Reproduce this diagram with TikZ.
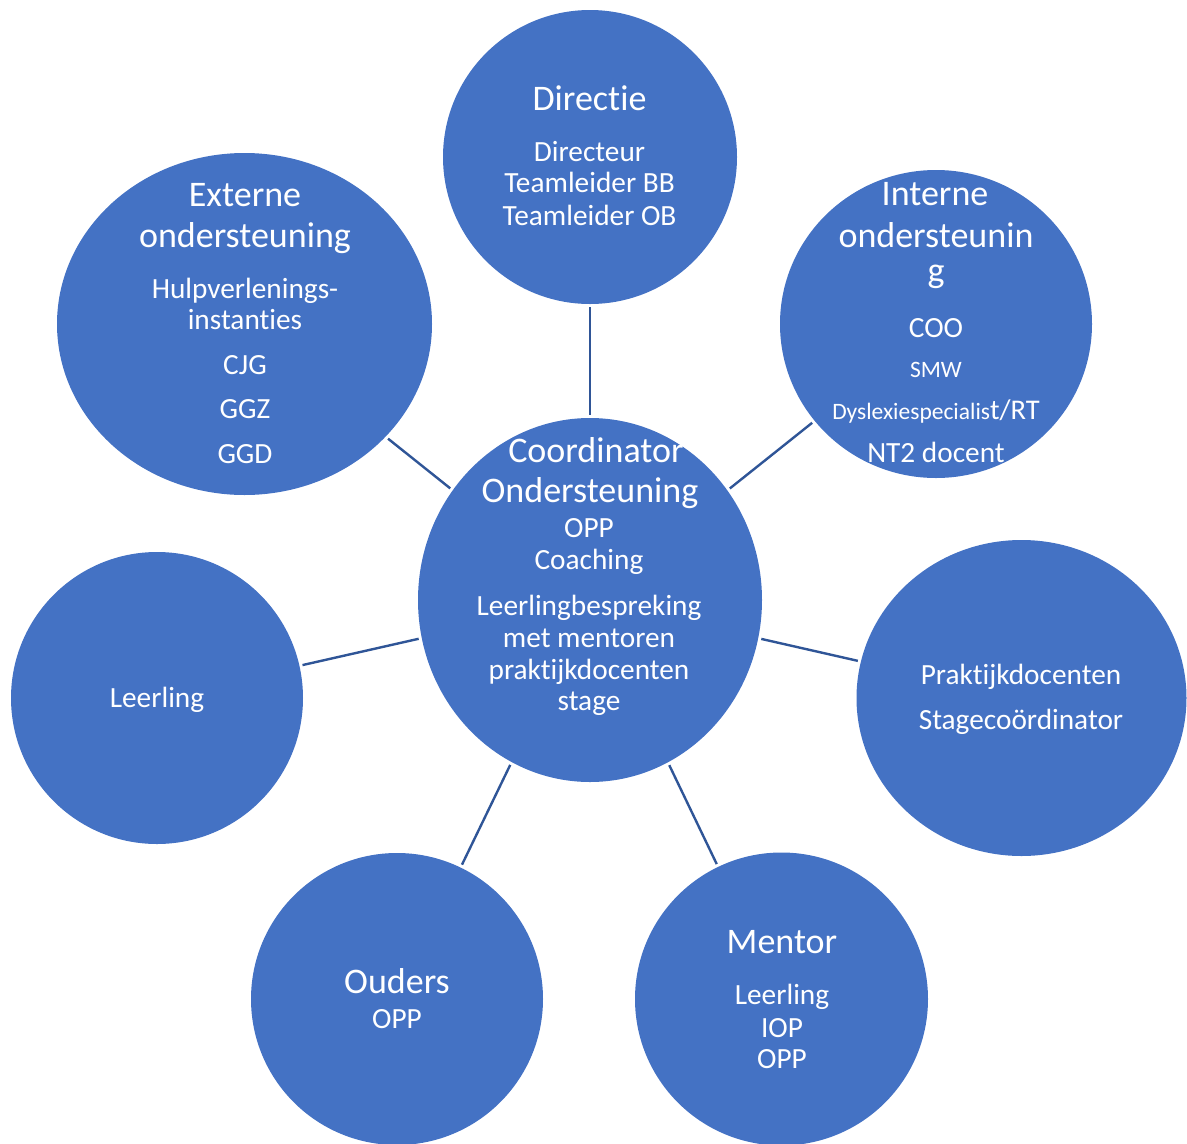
\documentclass[tikz,border=0pt]{standalone}
\usepackage{fontspec}
\setmainfont{Carlito}[Ligatures={NoCommon}]
\usetikzlibrary{shapes.geometric}
\definecolor{cfill}{HTML}{4472C4}
\definecolor{cline}{HTML}{2F5597}
\tikzset{
  bub/.style={ellipse, fill=cfill, draw=none, inner sep=0pt},
  conn/.style={draw=cline, line width=2.4pt, shorten <=3pt, shorten >=3pt},
  ttl/.style={text=white, anchor=base, inner sep=0pt, font=\fontsize{36}{43}\selectfont},
  bdy/.style={text=white, anchor=base, inner sep=0pt, font=\fontsize{29.3}{35}\selectfont},
  sml/.style={text=white, anchor=base, inner sep=0pt, font=\fontsize{23.5}{28}\selectfont}
}
\begin{document}
\begin{tikzpicture}[x=1pt,y=-1pt]
\useasboundingbox (0,0) rectangle (1187,1144);
\begin{scope}
\clip (0,0) rectangle (1187,1144);
% circles
\node[bub, minimum width=294pt, minimum height=294pt] (dir) at (590,157) {};
\node[bub, minimum width=375pt, minimum height=342pt] (ext) at (244.5,324) {};
\node[bub, minimum width=312pt, minimum height=308pt] (int) at (936,324) {};
\node[bub, minimum width=344pt, minimum height=364pt] (co) at (590,600) {};
\node[bub, minimum width=292pt, minimum height=292pt] (lee) at (157,698) {};
\node[bub, minimum width=330pt, minimum height=316pt] (pra) at (1021.5,698) {};
\node[bub, minimum width=292pt, minimum height=292pt] (oud) at (397,999) {};
\node[bub, minimum width=293pt, minimum height=293pt] (men) at (781.5,999) {};
% connectors
\draw[conn] (co) -- (dir);
\draw[conn] (co) -- (ext);
\draw[conn] (co) -- (int);
\draw[conn] (co) -- (lee);
\draw[conn] (co) -- (pra);
\draw[conn] (co) -- (oud);
\draw[conn] (co) -- (men);
\end{scope}
% Directie
\node[ttl] (t1) at (589.5,110) {Directie};
\node[bdy] (t2) at (589.5,161) {Directeur};
\node[bdy] (t3) at (589.5,192) {Teamleider BB};
\node[bdy] (t4) at (589.5,225) {Teamleider OB};
% Externe
\node[ttl] (e1) at (245,206) {Externe};
\node[ttl] (e2) at (245,247) {ondersteuning};
\node[bdy] (e3) at (245,298) {Hulpverlenings-};
\node[bdy] (e4) at (245,329) {instanties};
\node[bdy] (e5) at (245,374) {CJG};
\node[bdy] (e6) at (245,418) {GGZ};
\node[bdy] (e7) at (245,463) {GGD};
% Interne
\node[ttl] (i1) at (935,205) {Interne};
\node[ttl] (i2) at (936,247) {ondersteunin};
\node[ttl] (i3) at (936,282) {g};
\node[bdy] (i4) at (936,337) {COO};
\node[sml] (i5) at (936,377) {SMW};
\node[text=white, anchor=base, inner sep=0pt] (i6) at (936,419) {\fontsize{23.5}{28}\selectfont Dyslexiespecialis\fontsize{28.5}{34}\selectfont t/RT};
\node[bdy] (i7) at (936,462) {NT2 docent};
% Center
\node[ttl] (c1) at (596,462) {Coordinator};
\node[ttl] (c2) at (590,502) {Ondersteuning};
\node[bdy] (c3) at (589,537) {OPP};
\node[bdy] (c4) at (589,569) {Coaching};
\node[bdy] (c5) at (589,615) {Leerlingbespreking};
\node[bdy] (c6) at (589,647) {met mentoren};
\node[bdy] (c7) at (589,679) {praktijkdocenten};
\node[bdy] (c8) at (589,710) {stage};
% Leerling
\node[bdy] (l1) at (157,707) {Leerling};
% Praktijk
\node[bdy] (p1) at (1021,684) {Praktijkdocenten};
\node[bdy] (p2) at (1021,729) {Stagecoördinator};
% Ouders
\node[ttl] (o1) at (397,993) {Ouders};
\node[bdy] (o2) at (397,1028) {OPP};
% Mentor
\node[ttl] (m1) at (782,953) {Mentor};
\node[bdy] (m2) at (782,1004) {Leerling};
\node[bdy] (m3) at (782,1037) {IOP};
\node[bdy] (m4) at (782,1068) {OPP};
\end{tikzpicture}
\end{document}
